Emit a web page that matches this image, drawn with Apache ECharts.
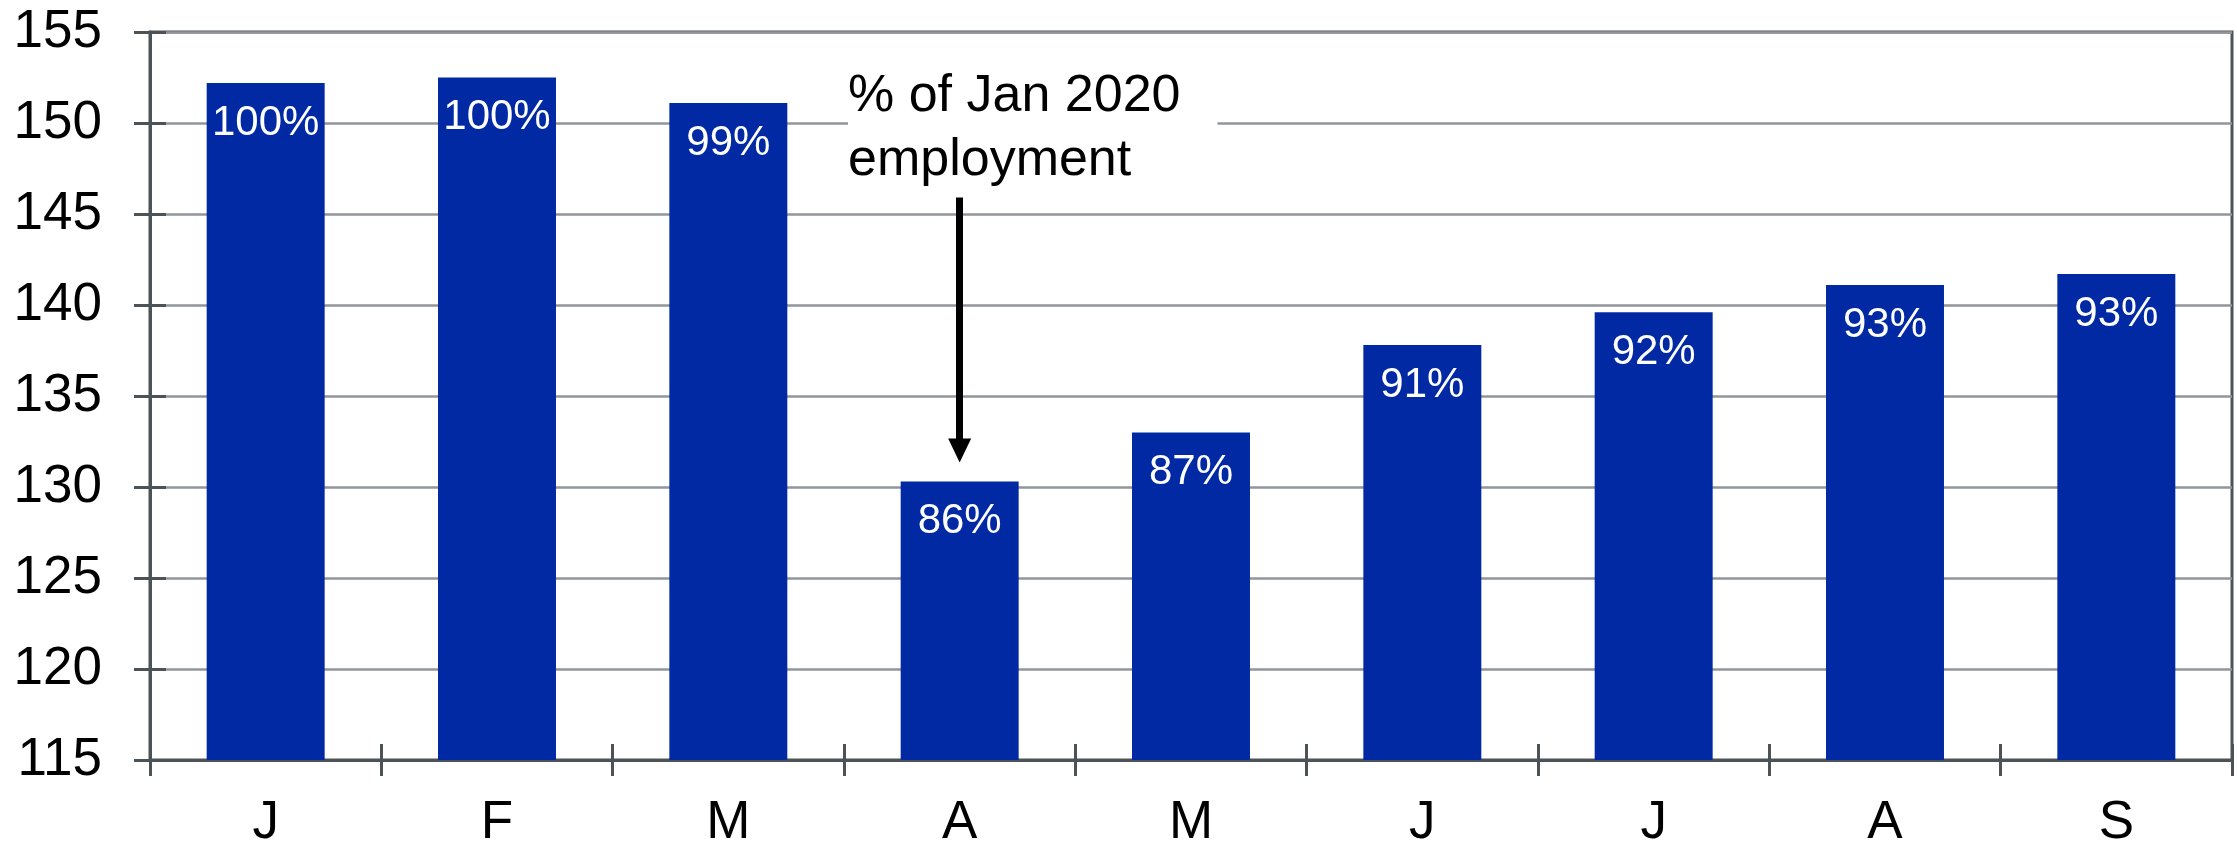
<!DOCTYPE html>
<html>
<head>
<meta charset="utf-8">
<script src="https://cdn.jsdelivr.net/npm/echarts@6/dist/echarts.min.js"></script>
<style>
  html, body { margin: 0; padding: 0; background: #ffffff; }
  #chart { width: 2237px; height: 845px; }
</style>
</head>
<body>
<div id="chart"></div>
<script>
// Nonfarm payroll employment, millions, Jan–Sep 2020
const months = ['Jan', 'Feb', 'Mar', 'Apr', 'May', 'Jun', 'Jul', 'Aug', 'Sep'];
const monthLetters = ['J', 'F', 'M', 'A', 'M', 'J', 'J', 'A', 'S'];
const employment = [152.2, 152.5, 151.1, 130.3, 133.0, 137.8, 139.6, 141.1, 141.7];

// Value axis range and step
const yMin = 115;
const yMax = 155;
const yStep = 5;

// Callout text and the arrow it points with (month, value from -> value to)
const noteLines = ['% of Jan 2020', 'employment'];
const arrowMonth = 'Apr';
const arrowFrom = 145.9;
const arrowTo = 132.0;

const FONT = '"Liberation Sans", Arial, Helvetica, sans-serif';
const AXIS_DARK = '#4d5256';
const GRID_GRAY = '#92969a';
const BAR_BLUE = '#0029a3';

// Each bar's share of the January level
const pctLabels = employment.map(v => Math.round(v / employment[0] * 100) + '%');

const chart = echarts.init(document.getElementById('chart'), null, { renderer: 'canvas' });

const catAxisBase = {
  type: 'category',
  data: months,
  position: 'bottom',
  boundaryGap: true
};
const valAxisBase = {
  type: 'value',
  min: yMin,
  max: yMax,
  interval: yStep,
  position: 'left'
};

chart.setOption({
  animation: false,
  backgroundColor: '#ffffff',
  grid: {
    left: 150, right: 5, top: 32, bottom: 85,
    containLabel: false,
    outerBoundsMode: 'none',
    show: true,
    borderColor: AXIS_DARK,
    borderWidth: 3,
    backgroundColor: 'transparent'
  },
  xAxis: [
    Object.assign({}, catAxisBase, {
      axisLine: { show: true, lineStyle: { color: AXIS_DARK, width: 3 } },
      axisTick: { show: true, inside: false, length: 16, lineStyle: { color: AXIS_DARK, width: 3 } },
      axisLabel: {
        show: true,
        margin: 37,
        color: '#000000',
        fontFamily: FONT,
        fontSize: 53,
        formatter: (v, i) => monthLetters[i]
      },
      splitLine: { show: false }
    }),
    Object.assign({}, catAxisBase, {
      axisLine: { show: false },
      axisTick: { show: true, inside: true, length: 16, lineStyle: { color: AXIS_DARK, width: 3 } },
      axisLabel: { show: false },
      splitLine: { show: false }
    })
  ],
  yAxis: [
    Object.assign({}, valAxisBase, {
      axisLine: { show: true, lineStyle: { color: AXIS_DARK, width: 3 } },
      axisTick: { show: true, inside: false, length: 16, lineStyle: { color: AXIS_DARK, width: 3 } },
      axisLabel: {
        show: true,
        margin: 48,
        color: '#000000',
        fontFamily: FONT,
        fontSize: 53
      },
      splitLine: { show: true, lineStyle: { color: GRID_GRAY, width: 2.5 } }
    }),
    Object.assign({}, valAxisBase, {
      axisLine: { show: false },
      axisTick: { show: true, inside: true, length: 16, lineStyle: { color: AXIS_DARK, width: 3 } },
      axisLabel: { show: false },
      splitLine: { show: false }
    })
  ],
  graphic: [
    {
      type: 'text',
      z: 1,
      left: 848,
      top: 57,
      style: {
        text: noteLines.join('\n'),
        font: '52px ' + FONT,
        fill: '#000000',
        lineHeight: 64,
        backgroundColor: '#ffffff',
        padding: [8, 37, 4, 0]
      }
    }
  ],
  series: [
    {
      type: 'bar',
      xAxisIndex: 0,
      yAxisIndex: 0,
      data: employment,
      barWidth: '51%',
      itemStyle: { color: BAR_BLUE },
      label: {
        show: true,
        position: 'insideTop',
        distance: 19,
        color: '#ffffff',
        fontFamily: FONT,
        fontSize: 42,
        formatter: p => pctLabels[p.dataIndex]
      },
      markLine: {
        silent: true,
        animation: false,
        symbol: ['none', 'triangle'],
        symbolSize: [23, 24],
        label: { show: false },
        lineStyle: { color: '#000000', width: 7, type: 'solid' },
        data: [
          [
            { coord: [arrowMonth, arrowFrom] },
            { coord: [arrowMonth, arrowTo] }
          ]
        ]
      }
    }
  ]
});
</script>
</body>
</html>
